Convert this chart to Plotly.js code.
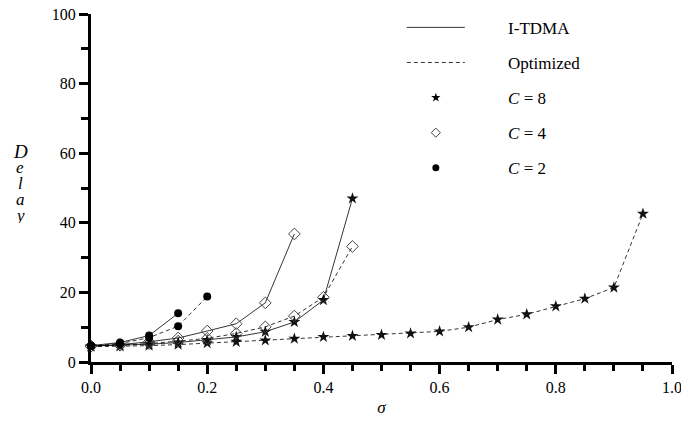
<!DOCTYPE html>
<html>
<head>
<meta charset="utf-8">
<script src="https://cdn.plot.ly/plotly-3.0.1.min.js"></script>
<style>
html,body{margin:0;padding:0;background:#fff;}
#chart{width:681px;height:424px;}
</style>
</head>
<body>
<div id="chart"></div>
<script>
// ---- data ----
const sigmaC8Itdma = [0, 0.05, 0.10, 0.15, 0.20, 0.25, 0.30, 0.35, 0.40, 0.45];
const delayC8Itdma = [4.6, 4.8, 5.1, 5.6, 6.3, 7.2, 8.7, 11.5, 17.8, 47.0];

const sigmaC8Opt = [0, 0.05, 0.10, 0.15, 0.20, 0.25, 0.30, 0.35, 0.40, 0.45, 0.50, 0.55, 0.60, 0.65, 0.70, 0.75, 0.80, 0.85, 0.90, 0.95];
const delayC8Opt = [4.4, 4.5, 4.7, 5.0, 5.4, 5.8, 6.2, 6.7, 7.2, 7.5, 7.8, 8.2, 8.8, 10.0, 12.2, 13.7, 16.0, 18.2, 21.4, 42.6];

const sigmaC4Itdma = [0, 0.05, 0.10, 0.15, 0.20, 0.25, 0.30, 0.35];
const delayC4Itdma = [4.6, 5.0, 5.8, 6.9, 8.9, 11.0, 17.0, 36.8];

const sigmaC4Opt = [0, 0.05, 0.10, 0.15, 0.20, 0.25, 0.30, 0.35, 0.40, 0.45];
const delayC4Opt = [4.5, 4.8, 5.3, 6.0, 6.8, 8.2, 10.1, 13.2, 18.6, 33.2];

const sigmaC2Itdma = [0, 0.05, 0.10, 0.15];
const delayC2Itdma = [4.7, 5.6, 7.6, 14.0];

const sigmaC2Opt = [0, 0.05, 0.10, 0.15, 0.20];
const delayC2Opt = [4.6, 5.3, 7.0, 10.3, 18.8];

const xTickVals = [0, 0.2, 0.4, 0.6, 0.8, 1.0];
const xTickText = ['0.0', '0.2', '0.4', '0.6', '0.8', '1.0'];
const yTickVals = [0, 20, 40, 60, 80, 100];
const yTickText = ['0', '20', '40', '60', '80', '100'];

const legendNames = ['I-TDMA', 'Optimized', '<i>C</i> = 8', '<i>C</i> = 4', '<i>C</i> = 2'];
const yTitleLetters = ['D', 'e', 'l', 'a', 'y'];
const xTitle = 'σ';

// ---- styles ----
const FONT = 'Liberation Serif, Times New Roman, serif';
const GAP = '\u00A0'.repeat(9);
const lineSolid = {color: '#000', width: 0.8};
const lineDash = {color: '#000', width: 0.8, dash: '4px,3px'};
const mkStar = {symbol: 'star', size: 9, color: '#111', line: {width: 0}};
const mkDiamond = {symbol: 'diamond-open', size: 9, color: '#444', line: {width: 1}};
const mkDot = {symbol: 'circle', size: 8, color: '#000', line: {width: 0}};

function series(x, y, line, marker) {
  return {x: x, y: y, type: 'scatter', mode: 'lines+markers', line: line, marker: marker,
          showlegend: false, hoverinfo: 'skip', cliponaxis: false};
}
function legendOnly(name, mode, line, marker, g) {
  const t = {x: [null], y: [null], type: 'scatter', mode: mode, name: GAP + name, legendgroup: g, showlegend: true};
  if (line) t.line = line;
  if (marker) t.marker = marker;
  return t;
}

const traces = [
  series(sigmaC8Opt, delayC8Opt, lineDash, mkStar),
  series(sigmaC8Itdma, delayC8Itdma, lineSolid, mkStar),
  series(sigmaC4Opt, delayC4Opt, lineDash, mkDiamond),
  series(sigmaC4Itdma, delayC4Itdma, lineSolid, mkDiamond),
  series(sigmaC2Opt, delayC2Opt, lineDash, mkDot),
  series(sigmaC2Itdma, delayC2Itdma, lineSolid, mkDot),
  legendOnly(legendNames[0], 'lines', lineSolid, null, 'a'),
  legendOnly(legendNames[1], 'lines', lineDash, null, 'b'),
  legendOnly(legendNames[2], 'markers', null, {symbol: 'star', size: 7, color: '#000'}, 'c'),
  legendOnly(legendNames[3], 'markers', null, {symbol: 'diamond-open', size: 7, color: '#444', line: {width: 1}}, 'd'),
  legendOnly(legendNames[4], 'markers', null, {symbol: 'circle', size: 7, color: '#000'}, 'e')
];

const yLetterAnn = yTitleLetters.map((ch, i) => ({
  xref: 'paper', yref: 'paper', x: -0.122, y: 0.605 - i * 0.046,
  text: '<i>' + ch + '</i>', showarrow: false, xanchor: 'center', yanchor: 'middle',
  height: 15, valign: 'middle',
  font: {family: FONT, size: i === 0 ? 19 : 17, color: '#000'}
}));

const layout = {
  width: 681, height: 424,
  margin: {l: 91, r: 9, t: 14, b: 62},
  paper_bgcolor: '#fff', plot_bgcolor: '#fff',
  font: {family: FONT, size: 16, color: '#000'},
  xaxis: {
    range: [0, 1], tickmode: 'array', tickvals: xTickVals, ticktext: xTickText,
    ticklabeloverflow: 'allow',
    showgrid: false, zeroline: false, showline: true, linewidth: 3, linecolor: '#000',
    ticks: 'outside', ticklen: 9, tickwidth: 3, tickcolor: '#000',
    minor: {dtick: 0.05, tick0: 0, ticks: 'outside', ticklen: 6, tickwidth: 3, tickcolor: '#000', showgrid: false},
    tickfont: {family: FONT, size: 16},
    title: {text: '<i>' + xTitle + '</i>', font: {family: FONT, size: 17}, standoff: 6}
  },
  yaxis: {
    range: [0, 100], tickmode: 'array', tickvals: yTickVals, ticktext: yTickText,
    showgrid: false, zeroline: false, showline: true, linewidth: 3, linecolor: '#000',
    ticks: 'outside', ticklen: 9, tickwidth: 3, tickcolor: '#000',
    minor: {dtick: 10, tick0: 0, ticks: 'outside', ticklen: 7, tickwidth: 3, tickcolor: '#000', showgrid: false},
    tickfont: {family: FONT, size: 16}
  },
  showlegend: true,
  legend: {
    x: 0.535, y: 1.012, xanchor: 'left', yanchor: 'top',
    bgcolor: 'rgba(0,0,0,0)', borderwidth: 0,
    font: {family: FONT, size: 17, color: '#000'},
    traceorder: 'grouped', tracegroupgap: 10, itemwidth: 58
  },
  annotations: yLetterAnn
};

Plotly.newPlot('chart', traces, layout, {staticPlot: true, displayModeBar: false});
</script>
</body>
</html>
